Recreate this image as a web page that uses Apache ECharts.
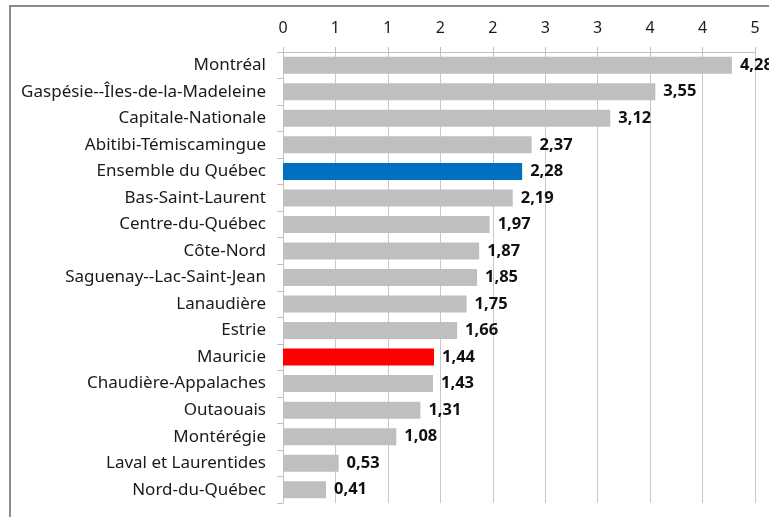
<!DOCTYPE html>
<html>
<head>
<meta charset="utf-8">
<script src="https://cdn.jsdelivr.net/npm/echarts@6/dist/echarts.min.js"></script>
<style>
  html, body { margin: 0; padding: 0; background: #fff; }
  #frame {
    position: absolute; left: 9px; top: 5px; width: 770px; height: 520px;
    border-left: 2px solid #8c8c8c; border-top: 2px solid #8c8c8c;
  }
  #chart { position: absolute; left: 0; top: 0; width: 769px; height: 517px; }
</style>
</head>
<body>
<div id="frame"></div>
<div id="chart"></div>
<script>
// régions, du haut vers le bas
var regions = [
  'Montréal', 'Gaspésie--Îles-de-la-Madeleine', 'Capitale-Nationale',
  'Abitibi-Témiscamingue', 'Ensemble du Québec', 'Bas-Saint-Laurent',
  'Centre-du-Québec', 'Côte-Nord', 'Saguenay--Lac-Saint-Jean', 'Lanaudière',
  'Estrie', 'Mauricie', 'Chaudière-Appalaches', 'Outaouais', 'Montérégie',
  'Laval et Laurentides', 'Nord-du-Québec'
]
var values = [4.28, 3.55, 3.12, 2.37, 2.28, 2.19, 1.97, 1.87, 1.85, 1.75, 1.66, 1.44, 1.43, 1.31, 1.08, 0.53, 0.41]
// étiquettes de l'axe (pas de 0,5 arrondi à l'unité)
var tickLabels = ['0', '1', '1', '2', '2', '3', '3', '4', '4', '5']
var highlight = { 'Ensemble du Québec': '#0070c0', 'Mauricie': '#ff0000' }

var chart = echarts.init(document.getElementById('chart'), null, { renderer: 'canvas' })
var font = '"Noto Sans", sans-serif'

chart.setOption({
  animation: false,
  grid: { left: 283, right: 14, top: 52, bottom: 14, containLabel: false },
  xAxis: {
    type: 'value',
    position: 'top',
    min: 0,
    max: 4.5,
    interval: 0.5,
    axisLine: { show: true, lineStyle: { color: '#bfbfbf', width: 1 } },
    axisTick: { show: true, length: 5, lineStyle: { color: '#bfbfbf' } },
    axisLabel: {
      margin: 16,
      color: '#1a1a1a',
      fontFamily: font,
      fontSize: 16,
      formatter: function (v) { return tickLabels[Math.round(v / 0.5)] }
    },
    splitLine: { show: true, lineStyle: { color: '#c8c8c8', width: 1 } }
  },
  yAxis: {
    type: 'category',
    inverse: true,
    data: regions,
    axisLine: { show: true, lineStyle: { color: '#bfbfbf', width: 1 } },
    axisTick: { show: true, length: 6, lineStyle: { color: '#bfbfbf' } },
    axisLabel: { margin: 17, color: '#1a1a1a', fontFamily: font, fontSize: 17 }
  },
  series: [{
    type: 'bar',
    barWidth: 17,
    data: values.map(function (v, i) {
      return { value: v, itemStyle: { color: highlight[regions[i]] || '#bfbfbf' } }
    }),
    label: {
      show: true,
      position: 'right',
      distance: 8,
      color: '#111',
      fontFamily: font,
      fontWeight: 'bold',
      fontSize: 16.5,
      formatter: function (p) { return p.value.toFixed(2).replace('.', ',') }
    }
  }]
})
</script>
</body>
</html>
